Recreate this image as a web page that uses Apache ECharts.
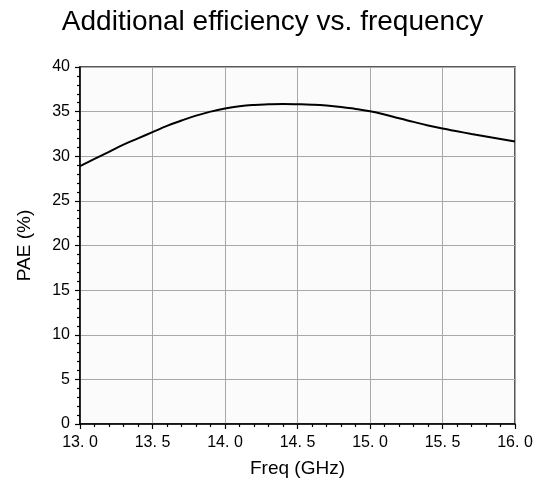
<!DOCTYPE html>
<html>
<head>
<meta charset="utf-8">
<script src="https://cdn.jsdelivr.net/npm/echarts@6/dist/echarts.min.js"></script>
<style>
html,body{margin:0;padding:0;background:#fff;}
#chart{width:545px;height:479px;}
</style>
</head>
<body>
<div id="chart"></div>
<script>
var freq = [13.0,13.1,13.2,13.3,13.4,13.5,13.6,13.7,13.8,13.9,14.0,14.1,14.2,14.3,14.4,14.5,14.6,14.7,14.8,14.9,15.0,15.1,15.2,15.3,15.4,15.5,15.6,15.7,15.8,15.9,16.0];
var pae = [28.9,29.7,30.5,31.3,32.0,32.7,33.4,34.0,34.55,35.0,35.35,35.6,35.75,35.82,35.85,35.83,35.78,35.68,35.52,35.3,35.05,34.68,34.25,33.85,33.45,33.1,32.8,32.5,32.22,31.94,31.65];
var titleText = 'Additional efficiency vs. frequency';
var xName = 'Freq (GHz)';
var yName = 'PAE (%)';

var chart = echarts.init(document.getElementById('chart'));
var font = 'Liberation Sans, Arial, sans-serif';
chart.setOption({
  animation: false,
  backgroundColor: '#ffffff',
  title: {
    text: titleText,
    left: 'center',
    top: 3,
    textStyle: {fontFamily: font, fontSize: 28, fontWeight: 'normal', color: '#000'}
  },
  grid: {
    left: 80, right: 30, top: 67, bottom: 55,
    outerBoundsMode: 'none',
    containLabel: false,
    show: true, backgroundColor: '#fbfbfb', borderColor: '#222', borderWidth: 1.5
  },
  xAxis: {
    type: 'value', min: 13, max: 16, interval: 0.5,
    name: xName, nameLocation: 'middle', nameGap: 35,
    nameTextStyle: {fontFamily: font, fontSize: 19, color: '#000'},
    axisLine: {show: true, lineStyle: {color: '#000', width: 1.5}},
    axisTick: {show: true, inside: false, length: 5, lineStyle: {color: '#000', width: 1.2}},
    minorTick: {show: true, splitNumber: 5, length: 3, lineStyle: {color: '#000', width: 1.2}},
    axisLabel: {
      fontFamily: font, fontSize: 16, color: '#000', margin: 11,
      formatter: function (v) { return v.toFixed(1).replace('.', '. '); }
    },
    splitLine: {show: true, lineStyle: {color: '#a8a8a8', width: 1}}
  },
  yAxis: {
    type: 'value', min: 0, max: 40, interval: 5,
    name: yName, nameLocation: 'middle', nameGap: 46,
    nameTextStyle: {fontFamily: font, fontSize: 19, color: '#000'},
    axisLine: {show: true, lineStyle: {color: '#000', width: 1.5}},
    axisTick: {show: true, inside: false, length: 5, lineStyle: {color: '#000', width: 1.2}},
    minorTick: {show: true, splitNumber: 5, length: 3, lineStyle: {color: '#000', width: 1.2}},
    axisLabel: {fontFamily: font, fontSize: 16, color: '#000', margin: 10},
    splitLine: {show: true, lineStyle: {color: '#a8a8a8', width: 1}}
  },
  series: [{
    type: 'line',
    data: freq.map(function (f, i) { return [f, pae[i]]; }),
    smooth: true,
    showSymbol: false,
    lineStyle: {color: '#000', width: 2}
  }]
});
</script>
</body>
</html>
